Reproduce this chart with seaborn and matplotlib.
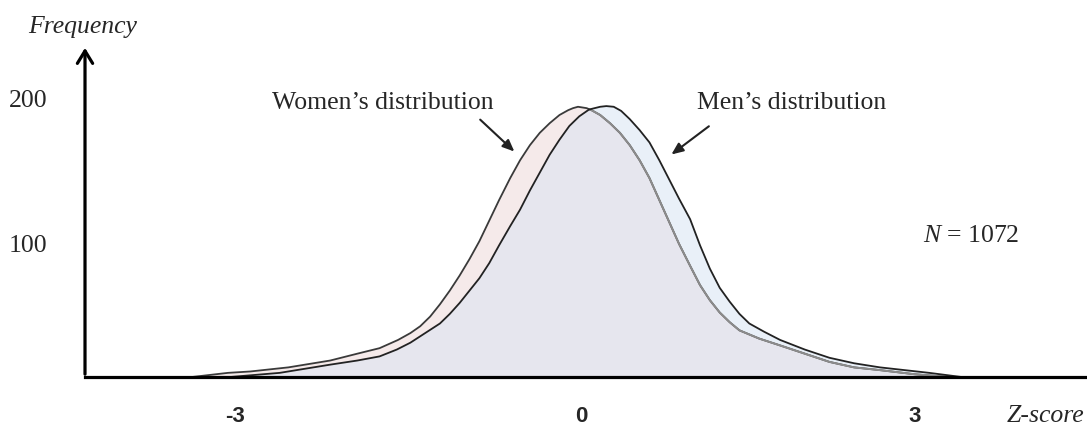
import numpy as np
import pandas as pd
import seaborn as sns
import matplotlib.pyplot as plt

# curve outlines (z-score, frequency)
women_z = [-3.16, -2.87, -2.69, -2.38, -2.04, -1.82, -1.64, -1.49, -1.39, -1.31, -1.23, -1.15,
           -1.07, -0.99, -0.91, -0.83, -0.75, -0.67, -0.58, -0.50, -0.42, -0.34, -0.26, -0.18,
           -0.11, -0.07, -0.03, 0.04, 0.08, 0.15, 0.23, 0.31, 0.39, 0.47, 0.55, 0.63, 0.71, 0.79,
           0.88, 0.96, 1.04, 1.12, 1.20, 1.28, 1.44, 1.61, 1.81, 2.01, 2.21, 2.42, 2.70, 2.98]
women_freq = [0, 3, 4, 7, 12, 17, 21, 27, 32, 37, 44, 53,
              63, 74, 86, 99, 114, 129, 145, 158, 169, 178, 185, 191,
              194.5, 196, 197, 196, 194.5, 191, 185, 178, 169, 158, 145, 129, 113, 97,
              81, 67, 56, 47, 40, 34, 28, 23, 17, 11, 7, 5, 2, 0]
men_z = [-2.85, -2.45, -2.04, -1.82, -1.64, -1.50, -1.39, -1.27, -1.15, -1.07, -0.99, -0.91,
         -0.83, -0.75, -0.67, -0.58, -0.50, -0.42, -0.34, -0.26, -0.18, -0.10, -0.02, 0.06,
         0.15, 0.20, 0.26, 0.32, 0.39, 0.47, 0.55, 0.63, 0.71, 0.79, 0.88, 0.96, 1.04, 1.12,
         1.20, 1.28, 1.36, 1.48, 1.61, 1.81, 2.01, 2.21, 2.42, 2.62, 2.82, 3.08]
men_freq = [0, 3, 9, 12, 15, 20, 25, 32, 39, 46, 54, 63,
            72, 83, 96, 110, 122, 136, 149, 162, 173, 183, 190, 195,
            197, 197.5, 197, 194, 188, 180, 171, 158, 144, 130, 115, 96, 79, 65,
            55, 46, 39, 33, 27, 20, 14, 10, 7, 5, 3, 0]

xtick_pos = [-2.81, 0, 2.70]
xtick_labels = ['-3', '0', '3']
ytick_pos = [97, 203]
ytick_labels = ['100', '200']

sns.set_style('white')
plt.rcParams['mathtext.fontset'] = 'custom'
plt.rcParams['mathtext.it'] = 'Liberation Serif:italic'
plt.rcParams['mathtext.rm'] = 'Liberation Serif'
plt.rcParams['lines.solid_joinstyle'] = 'round'
serif = 'Liberation Serif'
fs = 18.5

fig = plt.figure(figsize=(10.87, 4.25), dpi=100)
ax = fig.add_axes([0.0782, 0.113, 0.9218, 0.781])

# fills: men light blue, women pink, overlap grey-lavender
men_fill = ax.fill_between(men_z, men_freq, color='#e9f0f8', lw=0)
ax.fill_between(women_z, women_freq, color='#f5eaea', lw=0)
overlap = ax.fill_between(women_z, women_freq, color='#e6e6ee', lw=0)
men_path = men_fill.get_paths()[0]
overlap.set_clip_path(men_path, transform=ax.transData)

# outlines; women's line is lighter where it runs inside the men's curve
sns.lineplot(x=women_z, y=women_freq, ax=ax, color='#3a3a3a', lw=1.3, estimator=None)
sns.lineplot(x=women_z, y=women_freq, ax=ax, color='#8c8c8c', lw=1.4, estimator=None)
ax.lines[-1].set_clip_path(men_path, transform=ax.transData)
sns.lineplot(x=men_z, y=men_freq, ax=ax, color='#222222', lw=1.3, estimator=None)

ax.set_xlim(-4.03, 4.10)
ax.set_ylim(0, 242)

# axes: thick x line, y line with arrow head
for s in ['top', 'right', 'left']:
    ax.spines[s].set_visible(False)
ax.spines['bottom'].set_linewidth(2.3)
ax.spines['bottom'].set_color('black')
ax.annotate('', xy=(0, 1.0), xytext=(0, 0), xycoords='axes fraction',
            arrowprops=dict(arrowstyle='->, head_width=0.55, head_length=0.9', lw=2.3, color='black'))

ax.set_xticks(xtick_pos, xtick_labels, fontfamily='Liberation Sans', fontweight='bold', fontsize=16)
ax.set_yticks(ytick_pos, ytick_labels, fontfamily=serif, fontsize=fs)
ax.tick_params(axis='x', length=0, pad=21)
ax.tick_params(axis='y', length=0, pad=27)

ax.text(-4.05, 255, 'Frequency', fontfamily=serif, fontstyle='italic', fontsize=fs,
        ha='center', va='center', clip_on=False)
ax.text(3.76, -28.5, 'Z-score', fontfamily=serif, fontstyle='italic', fontsize=fs,
        ha='center', va='center', clip_on=False)
ax.text(3.16, 103, r'$N$ = 1072', fontfamily=serif, fontsize=fs, ha='center', va='center')

ax.annotate('Women\u2019s distribution', xy=(-0.53, 163), xytext=(-1.61, 200),
            fontfamily=serif, fontsize=fs, ha='center', va='center')
ax.annotate('', xy=(-0.53, 163), xytext=(-0.84, 189),
            arrowprops=dict(arrowstyle='-|>, head_width=0.3, head_length=0.7', lw=1.5, color='#222222'))
ax.annotate('Men\u2019s distribution', xy=(0.71, 161), xytext=(1.70, 200),
            fontfamily=serif, fontsize=fs, ha='center', va='center')
ax.annotate('', xy=(0.71, 161), xytext=(1.05, 184),
            arrowprops=dict(arrowstyle='-|>, head_width=0.3, head_length=0.7', lw=1.5, color='#222222'))

fig.savefig('out.png', dpi=100)
